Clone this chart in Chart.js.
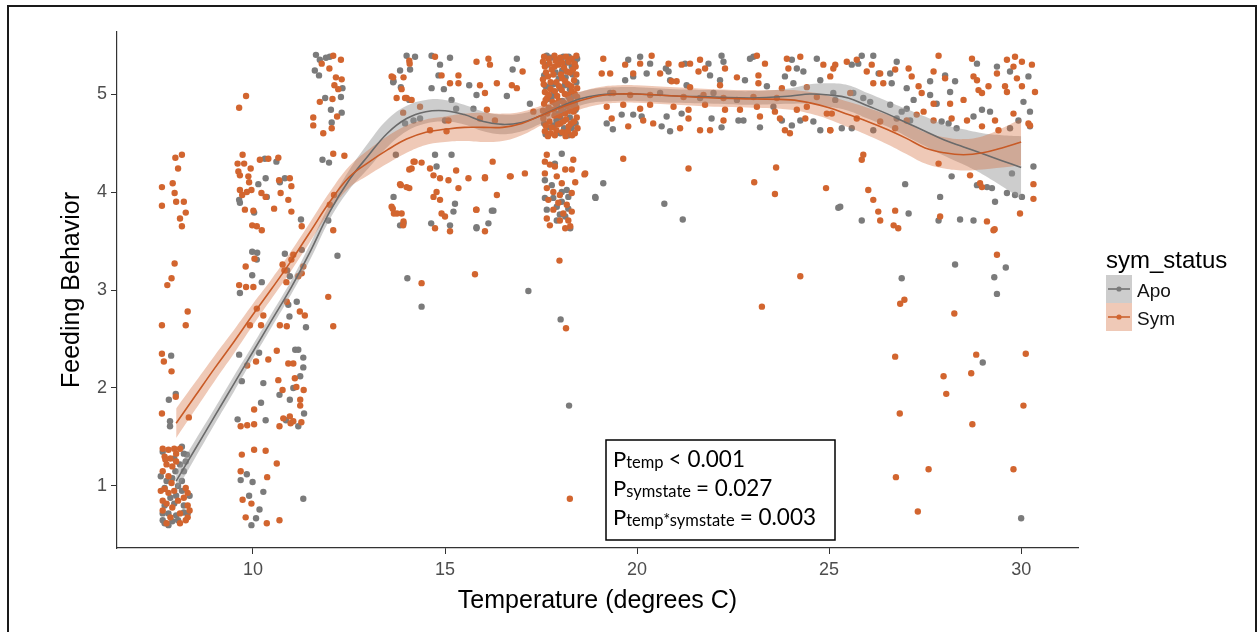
<!DOCTYPE html>
<html>
<head>
<meta charset="utf-8">
<title>Feeding Behavior vs Temperature</title>
<script src="https://cdn.jsdelivr.net/npm/chart.js@4/dist/chart.umd.min.js"></script>
<style>
  html, body { margin: 0; padding: 0; background: #fff; }
  canvas { display: block; }
</style>
</head>
<body>
<canvas id="feedChart" width="1258" height="632"></canvas>
<script>
// tick labels
const xTicks = [10, 15, 20, 25, 30];
const yTicks = [1, 2, 3, 4, 5];

// jittered observations, Apo (grey)
const apoPoints = [
  // 8 C
  [7.65,1.35],[8.15,1.4],[8.2,1.33],[7.95,1.28],[8.1,1.22],[8.25,1.25],[7.75,1.05],[7.9,1.08],[8.05,1.0],[8.15,1.05],
  [8.2,1.15],[7.7,0.98],[7.85,0.88],[8.0,0.9],[8.15,0.95],[7.7,0.8],[7.95,0.82],[8.2,0.8],[7.65,0.72],[7.8,0.72],
  [8.0,0.7],[8.2,0.73],[7.65,0.65],[7.7,0.62],[7.9,0.64],[8.05,0.65],[8.3,0.72],[7.8,0.6],[7.87,2.33],[7.81,1.88],
  [7.99,1.94],[7.84,1.66],[7.84,1.61],[8.28,1.32],[7.6,1.1],[8.35,0.9],[7.98,1.15],
  // 10-11 C
  [9.64,3.92],[9.66,3.89],[10.03,3.79],[10.14,4.08],[10.33,4.14],[10.31,4.34],[10.61,4.31],[10.7,4.1],[10.83,4.14],[10.36,3.95],
  [11.25,3.72],[9.98,3.39],[10.11,3.38],[10.1,3.31],[9.98,3.15],[10.23,3.08],[9.66,2.97],[10.83,3.37],[10.96,3.14],[10.89,3.2],
  [11.27,3.41],[12.2,3.35],[9.64,2.34],[10.16,2.36],[9.71,2.07],[10.27,2.05],[10.21,1.85],[9.6,1.68],[10.33,1.67],[9.84,1.12],
  [9.68,1.06],[9.99,1.04],[10.27,0.94],[9.9,0.9],[10.17,0.76],[10.08,0.67],[9.96,0.6],[11.31,0.87],[11.38,2.62],[10.95,2.73],
  [11.14,2.88],[11.1,2.39],[11.18,2.39],[11.31,2.31],[11.31,2.21],[11.23,2.12],[11.05,2.0],[10.96,1.88],[10.69,1.93],[10.86,1.67],
  [11.18,1.61],[11.33,1.74],[10.92,2.85],
  // 12 C
  [11.64,5.4],[11.74,5.35],[11.9,5.37],[12.0,5.38],[11.61,5.24],[11.72,5.19],[12.33,5.06],[12.29,4.97],[11.88,4.96],[12.03,4.84],
  [12.31,4.81],[12.05,4.71],[11.81,4.33],[11.98,4.3],[11.96,3.71],
  // 14-17 C
  [13.83,5.24],[13.65,5.12],[14.07,4.94],[13.83,3.66],[14.02,3.12],[14.39,2.83],[14.0,5.39],[14.22,5.38],[14.09,5.25],[13.66,5.13],
  [13.85,5.07],[14.65,5.39],[14.87,5.3],[15.13,5.37],[14.83,5.19],[14.65,5.06],[14.97,5.05],[15.17,4.94],[15.63,5.09],[15.82,4.99],
  [16.61,4.98],[16.87,5.36],[16.76,5.25],[17.21,4.9],[14.18,4.73],[13.96,4.7],[14.35,4.75],[15.0,4.73],[15.29,4.85],[15.74,4.85],
  [14.74,4.38],[15.17,4.38],[14.78,4.26],[13.66,3.95],[15.26,3.88],[15.22,3.8],[15.13,3.66],[14.64,3.68],[13.92,3.68],[15.82,3.63],
  [16.13,3.68],[16.26,3.81],[13.72,4.38],[16.22,3.81],[15.82,3.64],[17.17,2.99],
  // 18 C
  [17.65,5.39],[17.92,5.35],[18.22,5.38],[18.38,5.33],[17.67,5.3],[17.88,5.22],[18.05,5.24],[18.32,5.2],[18.18,5.32],[17.62,5.08],
  [17.82,5.1],[18.0,5.06],[18.25,5.05],[18.42,5.12],[17.68,4.95],[17.8,4.98],[18.05,4.93],[18.22,4.97],[18.38,4.9],[17.62,4.82],
  [17.95,4.8],[18.1,4.82],[18.4,4.84],[17.7,4.66],[17.82,4.68],[18.1,4.65],[18.3,4.65],[17.58,4.7],[18.0,4.76],
  [17.75,5.37],[18.08,5.38],[18.3,5.28],[17.58,5.19],[17.96,5.16],[18.14,5.17],[17.72,5.07],[18.12,5.09],[17.92,4.88],[18.3,4.97],
  [17.7,4.85],[18.25,4.76],[17.9,4.73],[18.4,4.7],[17.62,4.59],[18.0,4.6],[18.22,4.58],[18.44,5.36],[17.83,5.02],[18.15,4.88],
  [18.04,4.39],[17.86,4.29],[17.6,4.12],[17.78,4.07],[18.17,4.02],[18.04,4.0],[17.6,3.94],[17.82,3.94],[18.21,3.95],[18.04,3.9],
  [17.91,3.85],[18.21,3.83],[17.65,3.82],[18.13,3.75],[17.99,3.77],[18.26,3.63],[19.12,4.09],[18.91,3.95],[17.91,3.71],
  [18.01,2.7],[18.23,1.82],
  // 19-25 C
  [19.77,5.35],[20.08,5.38],[20.34,5.31],[20.75,5.26],[20.82,5.23],[21.25,5.31],[21.86,5.31],[22.2,5.39],[22.25,5.33],[22.94,5.36],
  [23.03,5.38],[24.03,5.35],[24.16,5.26],[24.33,5.23],[24.68,5.36],[19.69,5.14],[19.9,5.18],[20.25,5.21],[20.86,5.14],[21.29,5.09],
  [21.9,5.19],[22.16,5.14],[22.81,5.14],[23.85,5.18],[24.07,5.11],[24.77,5.14],[19.3,5.01],[20.6,5.01],[21.99,5.01],[23.38,5.08],
  [25.11,5.01],[19.6,4.79],[19.9,4.79],[20.12,4.77],[19.21,4.7],[19.37,4.64],[20.64,4.67],[20.86,4.62],[20.77,4.77],[21.94,4.75],
  [22.2,4.66],[22.64,4.73],[22.77,4.73],[23.2,4.66],[23.77,4.73],[24.03,4.68],[24.25,4.73],[24.59,4.72],[24.77,4.63],[21.16,4.8],
  [21.64,4.96],[22.6,4.94],[23.55,4.87],[20.71,3.88],[21.19,3.72],[25.24,3.84],[18.92,3.94],
  // 25-30 C
  [25.59,5.3],[25.85,5.39],[26.15,5.39],[25.76,5.31],[26.76,5.33],[26.29,5.21],[26.59,5.21],[26.63,5.11],[27.02,5.06],[27.63,5.13],
  [28.02,5.19],[28.28,5.13],[28.85,5.31],[29.37,5.28],[29.71,5.23],[30.19,5.18],[30.06,4.92],[30.23,4.82],[29.93,4.73],[30.23,4.67],
  [29.71,4.65],[28.98,4.84],[29.19,4.82],[28.76,4.77],[28.15,5.02],[27.63,4.99],[27.8,4.9],[27.2,4.94],[28.11,4.7],[28.32,4.65],
  [27.93,4.72],[25.89,4.96],[26.07,4.92],[26.59,4.89],[26.89,4.82],[27.11,4.73],[26.76,4.75],[27.02,4.85],[25.33,4.65],[25.59,4.65],
  [26.15,4.63],[25.16,4.94],[25.63,5.01],[30.32,4.26],[29.76,4.19],[28.19,4.16],[26.98,4.08],[29.11,4.05],[28.85,4.07],[29.24,4.04],
  [29.63,3.99],[29.84,3.97],[30.02,3.95],[29.32,3.9],[27.89,3.95],[25.29,3.85],[25.85,3.71],[27.07,3.78],[27.85,3.71],[28.41,3.72],
  [28.76,3.71],[28.28,3.26],[29.6,3.23],[26.89,3.12],[29.3,3.13],[29.37,2.96],[29.0,2.26],[30.0,0.67]
];

// jittered observations, Sym (orange)
const symPoints = [
  // 8 C
  [7.65,1.38],[7.8,1.37],[7.95,1.38],[8.1,1.38],[7.7,1.3],[7.85,1.28],[7.75,1.22],[7.9,1.2],[8.0,1.25],[7.65,1.15],
  [7.8,1.1],[7.7,0.97],[7.8,0.93],[7.95,0.95],[8.25,0.98],[8.3,0.93],[7.65,0.85],[7.75,0.82],[8.05,0.85],[8.2,0.88],
  [7.9,0.78],[8.3,0.8],[7.65,0.75],[8.1,0.72],[7.85,0.68],[8.25,0.65],[8.3,0.68],[7.75,0.62],[8.1,0.62],[7.6,0.95],
  [7.72,1.27],[8.0,1.33],[8.35,0.75],[7.88,1.03],
  [7.63,4.05],[7.63,3.86],[7.91,4.09],[7.96,3.99],[8.0,3.9],[8.2,3.9],[8.25,3.79],[8.1,3.73],[8.15,3.65],[7.98,4.35],
  [8.15,4.38],[8.05,4.24],[7.96,3.27],[7.88,3.12],[7.77,3.05],[7.63,2.64],[8.25,2.64],[8.3,2.78],[7.63,2.35],[7.68,2.27],
  [7.88,2.17],[7.99,1.91],[7.63,1.74],[8.33,1.7],
  // 10-11 C
  [9.64,4.86],[9.82,4.98],[9.6,4.29],[9.77,4.29],[9.62,4.21],[9.66,4.17],[9.88,4.16],[9.73,4.38],[9.94,4.24],[9.9,4.1],
  [9.66,4.02],[9.72,3.97],[9.84,4.0],[9.96,4.02],[9.79,3.82],[10.01,3.81],[10.18,4.33],[10.4,4.34],[10.66,4.35],[10.68,4.12],
  [10.72,3.99],[10.96,4.14],[11.0,4.06],[10.22,3.99],[10.33,3.95],[9.98,3.66],[10.1,3.65],[10.23,3.61],[11.0,3.8],[11.27,3.65],
  [10.92,3.92],[10.55,3.83],[9.81,3.24],[10.04,3.32],[9.64,3.05],[9.82,3.03],[10.01,3.03],[10.77,3.26],[10.82,3.2],[11.05,3.36],
  [11.0,3.31],[11.18,3.14],[11.27,3.17],[11.31,3.24],[10.87,3.08],[9.92,2.64],[10.1,2.81],[10.21,2.64],[10.27,2.74],[9.85,2.23],
  [10.08,2.27],[10.4,2.29],[10.62,2.38],[10.03,1.78],[9.68,1.61],[9.85,1.62],[10.03,1.63],[9.71,1.32],[10.03,1.37],[10.33,1.36],
  [10.62,1.23],[9.68,1.15],[10.37,1.09],[9.73,0.86],[9.96,0.82],[9.81,0.68],[10.36,0.62],[10.69,0.65],[10.88,2.88],[11.22,2.78],
  [11.35,2.74],[10.7,2.64],[10.88,2.63],[12.09,2.63],[10.92,2.25],[11.05,2.25],[10.66,2.08],[10.77,1.98],[11.09,2.1],[11.13,2.01],
  [11.32,1.98],[11.23,1.88],[11.23,1.82],[11.26,1.65],[10.69,1.61],[10.79,1.69],[10.96,1.71],[10.98,1.64],[11.05,1.66],
  // 12 C
  [11.79,5.31],[11.99,5.26],[12.09,5.39],[12.29,5.35],[12.16,5.17],[12.31,5.15],[12.12,5.09],[12.22,5.05],[12.07,4.95],[11.74,4.92],
  [11.57,4.76],[11.57,4.68],[11.83,4.6],[12.19,4.77],[12.05,4.65],[12.09,4.39],[12.38,4.37],[12.11,3.97],[12.0,3.87],[12.09,3.61],
  [11.96,2.93],
  // 14-17 C
  [13.61,5.18],[13.65,5.17],[13.87,5.05],[14.0,4.96],[14.08,5.31],[13.64,3.83],[13.75,3.78],[13.83,4.08],[14.0,4.05],[13.91,3.66],
  [14.07,4.23],[14.21,4.31],[14.07,5.34],[13.92,5.17],[13.74,4.96],[13.96,4.96],[14.13,4.94],[14.74,5.38],[14.91,5.19],[15.13,5.11],
  [15.35,5.19],[15.35,5.11],[15.82,5.33],[16.13,5.36],[16.17,5.3],[16.35,5.11],[16.04,5.01],[15.91,5.09],[17.02,5.23],[16.74,5.09],
  [16.87,5.06],[13.91,4.81],[14.35,4.87],[15.09,4.73],[14.61,4.63],[15.04,4.62],[16.09,4.84],[16.3,4.73],[15.91,4.75],[17.3,4.82],
  [14.18,4.31],[14.39,4.3],[14.13,4.24],[14.61,4.24],[13.85,4.07],[14.07,4.04],[14.7,4.17],[14.87,4.14],[15.09,4.12],[15.29,4.22],
  [15.61,4.14],[16.04,4.15],[16.35,3.97],[16.69,4.16],[17.08,4.19],[14.78,4.0],[14.7,3.95],[13.61,3.85],[13.67,3.78],[13.87,3.78],
  [13.92,3.7],[14.87,3.92],[15.0,3.75],[14.91,3.78],[15.35,4.04],[15.13,3.6],[14.74,3.63],[15.82,3.82],[16.04,3.6],[16.24,4.31],
  [16.71,4.16],[15.81,3.82],[16.04,4.14],[15.78,3.16],[14.39,3.07],[17.98,3.3],
  // 18 C
  [17.58,5.38],[17.7,5.36],[17.85,5.39],[18.0,5.37],[18.15,5.38],[18.3,5.36],[18.42,5.39],[17.6,5.28],[17.78,5.25],[17.95,5.3],
  [18.1,5.27],[18.25,5.22],[18.4,5.28],[17.55,5.15],[17.68,5.18],[17.9,5.12],[18.05,5.16],[18.2,5.1],[18.36,5.14],[17.6,5.02],
  [17.75,5.05],[17.92,4.98],[18.12,5.0],[18.3,5.03],[18.44,4.97],[17.58,4.9],[17.7,4.86],[17.88,4.9],[18.02,4.85],[18.18,4.88],
  [18.35,4.82],[17.56,4.75],[17.72,4.72],[17.85,4.78],[18.0,4.7],[18.15,4.74],[18.28,4.7],[18.43,4.76],[17.6,4.62],[17.75,4.6],
  [17.9,4.63],[18.05,4.61],[18.2,4.62],[18.38,4.6],[17.66,4.96],[18.26,4.94],[17.82,5.2],[18.44,5.06],
  [17.55,5.33],[17.72,5.31],[17.88,5.34],[18.05,5.32],[18.22,5.33],[18.37,5.31],[17.63,5.22],[17.85,5.28],[18.02,5.2],[18.17,5.23],
  [18.33,5.25],[17.57,5.1],[17.75,5.12],[17.97,5.08],[18.13,5.13],[18.29,5.08],[18.42,5.2],[17.7,4.99],[17.86,5.03],[18.04,5.04],
  [18.2,4.99],[18.38,5.0],[17.62,4.94],[17.8,4.92],[17.96,4.93],[18.1,4.91],[18.33,4.88],[17.55,4.83],[17.66,4.8],[17.83,4.84],
  [17.98,4.78],[18.13,4.8],[18.24,4.83],[18.42,4.86],[17.62,4.68],[17.78,4.66],[17.94,4.69],[18.08,4.72],[18.22,4.67],[18.36,4.72],
  [17.68,4.57],[17.86,4.58],[18.14,4.57],[18.31,4.58],[18.45,4.65],
  [17.65,4.38],[17.6,4.31],[17.73,4.28],[17.86,4.26],[18.13,4.23],[18.3,4.23],[18.34,4.33],[17.6,4.19],[17.91,4.16],[18.04,4.09],
  [18.39,4.1],[17.65,4.04],[17.82,4.0],[17.99,3.97],[18.3,3.99],[17.69,3.92],[17.95,3.89],[18.17,3.87],[17.82,3.82],[18.08,3.78],
  [18.3,3.8],[17.65,3.73],[17.99,3.71],[18.21,3.71],[17.73,3.66],[18.13,3.63],[18.26,3.65],[18.65,4.19],[18.15,2.61],[18.25,0.87],
  // 19-25 C
  [19.12,5.36],[19.08,5.21],[19.3,5.21],[19.69,5.3],[20.08,5.31],[20.38,5.39],[19.9,5.21],[20.6,5.21],[20.82,5.31],[21.16,5.3],
  [21.38,5.31],[21.64,5.35],[21.77,5.26],[21.6,5.23],[22.29,5.26],[22.6,5.17],[23.12,5.39],[23.33,5.31],[23.16,5.19],[23.9,5.36],
  [24.25,5.38],[23.94,5.26],[24.85,5.3],[25.11,5.26],[25.03,5.18],[20.9,5.13],[21.03,5.13],[21.38,5.07],[22.16,5.09],[23.16,5.11],
  [23.77,5.06],[24.42,5.07],[19.38,5.01],[19.82,4.99],[20.34,4.99],[21.21,4.97],[21.73,4.99],[22.25,4.96],[23.03,4.97],[23.64,4.96],
  [24.68,4.97],[19.21,4.87],[19.64,4.89],[20.08,4.85],[20.34,4.89],[20.95,4.87],[21.34,4.84],[21.77,4.89],[22.29,4.84],[22.68,4.84],
  [23.12,4.87],[23.59,4.82],[24.16,4.84],[24.42,4.87],[24.94,4.8],[19.34,4.75],[19.77,4.67],[20.16,4.73],[20.42,4.7],[21.12,4.65],
  [21.34,4.75],[21.64,4.63],[21.9,4.63],[22.25,4.73],[23.2,4.77],[23.72,4.75],[23.85,4.63],[23.98,4.6],[24.38,4.75],[25.03,4.63],
  [19.64,4.34],[21.34,4.24],[23.62,4.25],[23.05,4.1],[23.59,3.98],[24.92,4.04],[18.63,4.18],[24.25,3.14],[23.25,2.83],
  // 25-30 C
  [25.16,5.3],[25.46,5.33],[25.72,5.35],[25.98,5.23],[26.11,5.3],[26.33,5.21],[26.41,5.11],[26.72,5.25],[27.07,5.26],[27.15,5.18],
  [27.33,5.08],[27.85,5.39],[27.72,5.23],[28.02,5.16],[28.72,5.36],[28.76,5.18],[28.85,5.14],[28.89,5.04],[29.63,5.35],[29.84,5.38],
  [30.02,5.33],[29.8,5.28],[29.37,5.21],[30.28,5.3],[30.36,5.02],[29.89,5.16],[29.58,5.08],[29.63,5.02],[29.15,5.08],[28.98,5.01],
  [28.5,4.94],[28.15,4.9],[27.72,4.9],[27.41,5.01],[27.46,4.82],[27.72,4.73],[28.19,4.75],[28.59,4.73],[28.98,4.67],[29.32,4.73],
  [29.41,4.63],[29.8,4.8],[30.19,4.7],[30.23,4.68],[30.02,5.08],[26.15,5.11],[25.55,5.01],[25.07,4.8],[25.72,4.75],[26.33,4.72],
  [26.72,4.65],[27.02,4.73],[27.28,4.79],[25.03,4.63],[25.89,4.38],[25.85,4.33],[27.85,4.29],[28.67,4.17],[28.93,4.09],[28.98,4.05],
  [26.02,4.02],[26.15,3.92],[30.32,4.08],[30.32,3.93],[26.28,3.8],[26.33,3.71],[26.72,3.81],[26.68,3.66],[26.8,3.63],[27.89,3.75],
  [29.11,3.7],[29.28,3.61],[29.97,3.78],[29.31,3.62],[29.37,3.36],[26.96,2.9],[26.85,2.86],[28.26,2.76],[26.72,2.32],[28.83,2.34],
  [30.12,2.35],[27.98,2.12],[28.7,2.15],[28.05,1.94],[26.84,1.74],[30.06,1.82],[28.73,1.63],[26.74,1.09],[27.59,1.17],[29.8,1.17],
  [27.31,0.74]
];

// loess fits with their confidence half-widths
const fitX   = [8, 8.5, 9, 9.5, 10, 10.5, 11, 11.5, 12, 12.5, 13, 13.5, 14, 14.5, 15, 15.5, 16, 16.5, 17, 17.5,
                18, 18.5, 19, 19.5, 20, 21, 22, 23, 24, 24.5, 25, 25.5, 26, 26.5, 27, 27.5, 28, 28.5, 29, 29.5, 30];
const apoFit = [1.05, 1.38, 1.71, 2.04, 2.37, 2.70, 3.03, 3.40, 3.80, 4.12, 4.37, 4.60, 4.75, 4.82, 4.83, 4.79, 4.72, 4.69, 4.71, 4.78,
                4.87, 4.95, 4.99, 5.00, 5.00, 4.98, 4.97, 4.96, 4.98, 5.00, 4.99, 4.96, 4.88, 4.80, 4.71, 4.62, 4.53, 4.46, 4.39, 4.32, 4.25];
const apoSE  = [0.10, 0.09, 0.08, 0.08, 0.07, 0.07, 0.07, 0.08, 0.08, 0.10, 0.13, 0.14, 0.13, 0.12, 0.11, 0.10, 0.10, 0.10, 0.09, 0.08,
                0.07, 0.07, 0.07, 0.07, 0.07, 0.07, 0.07, 0.07, 0.08, 0.10, 0.12, 0.13, 0.13, 0.13, 0.14, 0.15, 0.16, 0.18, 0.21, 0.26, 0.32];
const symFit = [1.64, 1.92, 2.20, 2.47, 2.75, 3.02, 3.30, 3.60, 3.90, 4.15, 4.30, 4.43, 4.54, 4.61, 4.64, 4.66, 4.66, 4.66, 4.70, 4.78,
                4.86, 4.93, 4.98, 5.00, 5.00, 4.98, 4.96, 4.95, 4.94, 4.91, 4.86, 4.79, 4.72, 4.64, 4.55, 4.45, 4.40, 4.38, 4.40, 4.45, 4.51];
const symSE  = [0.15, 0.14, 0.13, 0.12, 0.11, 0.10, 0.10, 0.10, 0.10, 0.11, 0.13, 0.14, 0.14, 0.13, 0.13, 0.14, 0.15, 0.14, 0.12, 0.10,
                0.09, 0.09, 0.09, 0.09, 0.09, 0.09, 0.09, 0.09, 0.10, 0.11, 0.12, 0.13, 0.14, 0.15, 0.16, 0.16, 0.16, 0.16, 0.17, 0.20, 0.24];

const APO_PT = "#7b7b7b", SYM_PT = "#d2652f";
const APO_LINE = "#6a6a6a", SYM_LINE = "#c85a26";
const APO_BAND = "rgba(150,150,150,0.48)", SYM_BAND = "rgba(212,104,56,0.36)";
const FONT = "'Liberation Sans', Arial, sans-serif";

function toXY(pts) { return pts.map(p => ({ x: p[0], y: p[1] })); }
function curve(ys, se, sign) { return fitX.map((x, i) => ({ x: x, y: ys[i] + sign * se[i] })); }

function bandSet(data, fill, color, order) {
    return { type: "line", data: data, fill: fill, backgroundColor: color, borderWidth: 0,
             pointRadius: 0, tension: 0.4, order: order };
}

// titles, legend, stats box and outer frame
const decor = {
    id: "decor",
    afterDraw(chart) {
        const c = chart.ctx, a = chart.chartArea;
        c.save();
        c.fillStyle = "#000";
        c.font = "25px " + FONT;
        c.textAlign = "center";
        c.textBaseline = "alphabetic";
        c.fillText("Temperature (degrees C)", (a.left + a.right) / 2, 608);
        c.save();
        c.translate(79, (a.top + a.bottom) / 2);
        c.rotate(-Math.PI / 2);
        c.fillText("Feeding Behavior", 0, 0);
        c.restore();

        // legend
        c.textAlign = "left";
        c.font = "24px " + FONT;
        c.fillText("sym_status", 1106, 268);
        const keys = [["Apo", APO_BAND, APO_LINE, APO_PT], ["Sym", SYM_BAND, SYM_LINE, SYM_PT]];
        keys.forEach((k, i) => {
            const top = 275 + i * 28;
            c.fillStyle = "#fff";
            c.fillRect(1106, top, 26, 28);
            c.fillStyle = k[1];
            c.fillRect(1106, top, 26, 28);
            c.strokeStyle = k[2];
            c.lineWidth = 1.5;
            c.beginPath();
            c.moveTo(1108, top + 14);
            c.lineTo(1130, top + 14);
            c.stroke();
            c.fillStyle = k[3];
            c.beginPath();
            c.arc(1119, top + 14, 2.6, 0, Math.PI * 2);
            c.fill();
            c.fillStyle = "#111";
            c.font = "19px " + FONT;
            c.fillText(k[0], 1137, top + 22);
        });

        // stats box
        c.fillStyle = "#fff";
        c.fillRect(606, 440, 229, 100);
        c.strokeStyle = "#000";
        c.lineWidth = 1.5;
        c.strokeRect(606, 440, 229, 100);
        const rows = [["temp", "< 0.001"], ["symstate", "= 0.027"], ["temp*symstate", "= 0.003"]];
        c.fillStyle = "#000";
        rows.forEach((r, i) => {
            const base = 467 + i * 29;
            let x = 613;
            c.font = "22px Lato, 'Open Sans', sans-serif";
            c.fillText("P", x, base);
            x += c.measureText("P").width;
            c.font = "16.5px Lato, 'Open Sans', sans-serif";
            c.fillText(r[0], x, base + 1);
            x += c.measureText(r[0]).width + 5;
            c.font = "22.5px Lato, 'Open Sans', sans-serif";
            c.fillText(r[1], x, base);
        });

        // outer frame
        c.strokeStyle = "#1a1a1a";
        c.lineWidth = 2;
        c.strokeRect(8, 6, 1248, 640);
        c.restore();
    }
};

const ctx = document.getElementById("feedChart").getContext("2d");
new Chart(ctx, {
    type: "scatter",
    data: {
        datasets: [
            { label: "Apo", data: toXY(apoPoints), backgroundColor: APO_PT, borderWidth: 0, pointRadius: 3.2, order: 8 },
            { label: "Sym", data: toXY(symPoints), backgroundColor: SYM_PT, borderWidth: 0, pointRadius: 3.2, order: 7 },
            bandSet(curve(apoFit, apoSE, 1), "+1", APO_BAND, 6),
            bandSet(curve(apoFit, apoSE, -1), false, APO_BAND, 5),
            bandSet(curve(symFit, symSE, 1), "+1", SYM_BAND, 4),
            bandSet(curve(symFit, symSE, -1), false, SYM_BAND, 3),
            { type: "line", data: curve(apoFit, apoSE, 0), borderColor: APO_LINE, borderWidth: 1.6,
              pointRadius: 0, fill: false, tension: 0.4, order: 2 },
            { type: "line", data: curve(symFit, symSE, 0), borderColor: SYM_LINE, borderWidth: 1.6,
              pointRadius: 0, fill: false, tension: 0.4, order: 1 }
        ]
    },
    options: {
        responsive: false,
        animation: false,
        layout: { padding: { left: 10, top: 32, right: 180, bottom: 4 } },
        plugins: {
            legend: { display: false },
            tooltip: { enabled: false }
        },
        scales: {
            x: {
                type: "linear",
                min: 6.46,
                max: 31.48,
                afterBuildTicks: s => { s.ticks = xTicks.map(v => ({ value: v })); },
                afterFit: s => { s.height = 80; },
                grid: { drawOnChartArea: false, drawTicks: true, tickLength: 6, color: "#333" },
                border: { display: true, color: "#333", width: 1.2 },
                ticks: { color: "#4d4d4d", font: { size: 18, family: FONT }, padding: 5, maxRotation: 0 }
            },
            y: {
                type: "linear",
                min: 0.367,
                max: 5.633,
                afterBuildTicks: s => { s.ticks = yTicks.map(v => ({ value: v })); },
                afterFit: s => { s.width = 107; },
                grid: { drawOnChartArea: false, drawTicks: true, tickLength: 6, color: "#333" },
                border: { display: true, color: "#333", width: 1.2 },
                ticks: { color: "#4d4d4d", font: { size: 18, family: FONT }, padding: 4 }
            }
        }
    },
    plugins: [decor]
});
</script>
</body>
</html>
